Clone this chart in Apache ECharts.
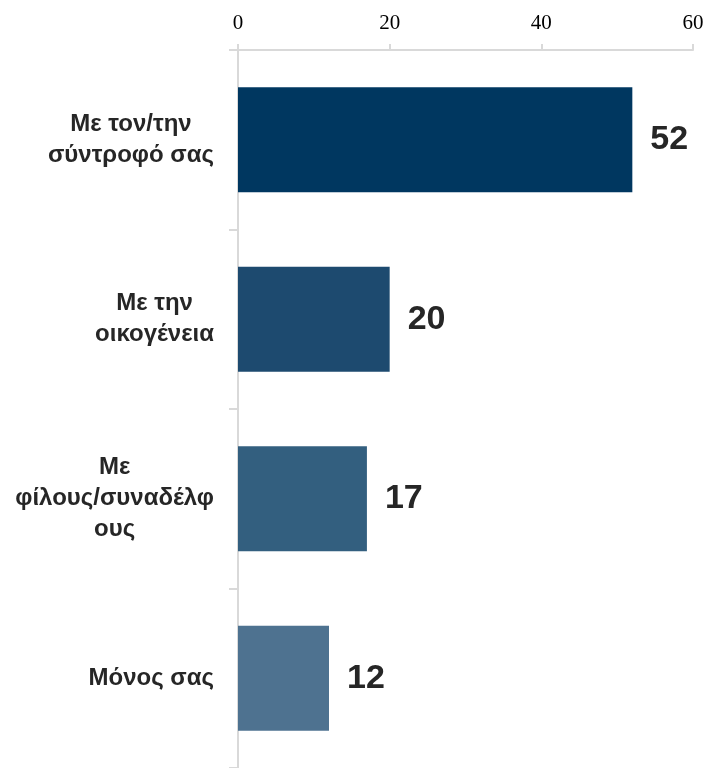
<!DOCTYPE html>
<html>
<head>
<meta charset="utf-8">
<script src="https://cdn.jsdelivr.net/npm/echarts@6/dist/echarts.min.js"></script>
<style>
html,body{margin:0;padding:0;background:#fff;}
#chart{width:712px;height:768px;}
</style>
</head>
<body>
<div id="chart"></div>
<script>
const categories = ["Με τον/την\nσύντροφό σας", "Με την\nοικογένεια", "Με\nφίλους/συναδέλφ\nους", "Μόνος σας"];
const values = [52, 20, 17, 12];
const barColors = ["#003760", "#1d4a6f", "#335f7f", "#4e7290"];
const xTicks = [0, 20, 40, 60];

const chart = echarts.init(document.getElementById('chart'), null, {renderer: 'canvas'});
chart.setOption({
  animation: false,
  grid: {left: 238, right: 19, top: 50, height: 720, containLabel: false},
  xAxis: {
    type: 'value', position: 'top', min: xTicks[0], max: xTicks[xTicks.length - 1], interval: 20,
    splitLine: {show: false},
    axisLine: {show: true, lineStyle: {color: '#d9d9d9', width: 2}},
    axisTick: {show: true, length: 6, lineStyle: {color: '#d9d9d9', width: 2}},
    axisLabel: {color: '#000', fontFamily: 'Liberation Serif', fontSize: 21, margin: 16}
  },
  yAxis: {
    type: 'category', inverse: true, data: categories,
    axisLine: {show: true, lineStyle: {color: '#d9d9d9', width: 2}},
    axisTick: {show: true, length: 9, lineStyle: {color: '#d9d9d9', width: 2}},
    axisLabel: {
      margin: 24, align: 'right',
      formatter: function (v) { return v.split('\n').map(function (s) { return '{c|' + s + '}'; }).join('\n'); },
      rich: {c: {align: 'center', color: '#262626', fontFamily: 'Liberation Sans', fontWeight: 'bold', fontSize: 24, lineHeight: 31}}
    }
  },
  series: [{
    type: 'bar', barWidth: 105,
    data: values.map(function (v, i) { return {value: v, itemStyle: {color: barColors[i]}}; }),
    label: {show: true, position: 'right', distance: 18, color: '#262626',
      fontFamily: 'Liberation Sans', fontWeight: 'bold', fontSize: 34}
  }]
});
</script>
</body>
</html>
